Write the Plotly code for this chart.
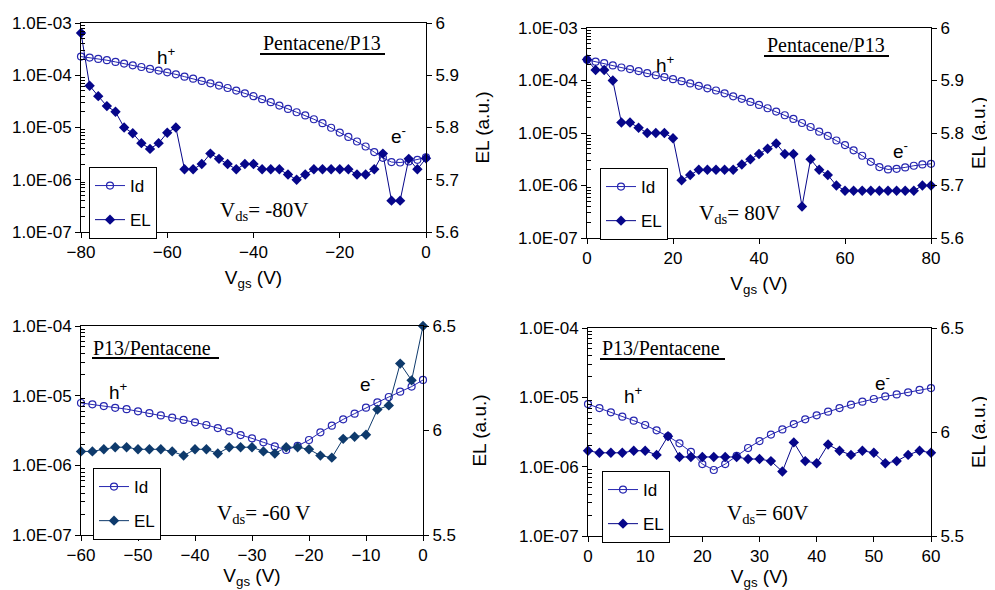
import plotly.graph_objects as go

# page body has an 8px margin; the figure fills the rest of the 995x590 window
OFF = 8
W, H = 995 - OFF, 590 - OFF

# ---------------- data ----------------
vgs_1 = list(range(-80, 1, 2))
id_1 = [2.28e-4, 2.18e-4, 2.05e-4, 1.94e-4, 1.80e-4, 1.67e-4, 1.55e-4, 1.44e-4, 1.32e-4, 1.23e-4,
        1.14e-4, 1.04e-4, 9.4e-5, 8.6e-5, 7.8e-5, 7.0e-5, 6.35e-5, 5.7e-5, 5.1e-5, 4.5e-5,
        3.97e-5, 3.48e-5, 3.05e-5, 2.63e-5, 2.27e-5, 1.96e-5, 1.70e-5, 1.44e-5, 1.21e-5, 9.9e-6,
        8.0e-6, 6.6e-6, 5.4e-6, 4.33e-6, 3.38e-6, 2.63e-6, 2.18e-6, 2.14e-6, 2.24e-6, 2.41e-6, 2.67e-6]
el_1 = [5.981, 5.880, 5.860, 5.841, 5.830, 5.800, 5.789, 5.770, 5.759, 5.770,
        5.790, 5.800, 5.720, 5.720, 5.730, 5.750, 5.740, 5.730, 5.720, 5.730,
        5.730, 5.720, 5.720, 5.720, 5.710, 5.700, 5.710, 5.720, 5.720, 5.720,
        5.720, 5.720, 5.710, 5.710, 5.720, 5.750, 5.660, 5.660, 5.740, 5.720, 5.741]

vgs_2 = list(range(0, 81, 2))
id_2 = [2.48e-4, 2.28e-4, 2.14e-4, 1.94e-4, 1.77e-4, 1.65e-4, 1.51e-4, 1.38e-4, 1.26e-4, 1.16e-4,
        1.06e-4, 9.7e-5, 8.8e-5, 7.9e-5, 7.1e-5, 6.45e-5, 5.7e-5, 5.0e-5, 4.47e-5, 3.91e-5,
        3.43e-5, 2.96e-5, 2.56e-5, 2.18e-5, 1.85e-5, 1.55e-5, 1.30e-5, 1.06e-5, 8.8e-6, 7.2e-6,
        5.9e-6, 4.67e-6, 3.69e-6, 2.83e-6, 2.24e-6, 2.02e-6, 2.08e-6, 2.21e-6, 2.38e-6, 2.52e-6, 2.59e-6]
el_2 = [5.94, 5.92, 5.92, 5.90, 5.82, 5.82, 5.81, 5.80, 5.80, 5.80,
        5.79, 5.71, 5.72, 5.73, 5.73, 5.73, 5.73, 5.73, 5.74, 5.75,
        5.76, 5.77, 5.78, 5.76, 5.76, 5.66, 5.75, 5.73, 5.72, 5.70,
        5.69, 5.69, 5.69, 5.69, 5.69, 5.69, 5.69, 5.69, 5.69, 5.70, 5.70]

vgs_3 = list(range(-60, 1, 2))
id_3 = [7.85e-6, 7.5e-6, 7.1e-6, 6.7e-6, 6.4e-6, 5.96e-6, 5.6e-6, 5.2e-6, 4.83e-6, 4.48e-6,
        4.14e-6, 3.79e-6, 3.43e-6, 3.08e-6, 2.72e-6, 2.44e-6, 2.14e-6, 1.87e-6, 1.66e-6, 1.90e-6,
        2.31e-6, 2.98e-6, 3.71e-6, 4.57e-6, 5.52e-6, 6.73e-6, 8.0e-6, 9.57e-6, 1.14e-5, 1.35e-5, 1.68e-5]
el_3 = [5.90, 5.90, 5.91, 5.92, 5.92, 5.91, 5.91, 5.91, 5.90, 5.88,
        5.91, 5.91, 5.89, 5.92, 5.92, 5.92, 5.90, 5.89, 5.92, 5.92,
        5.91, 5.88, 5.87, 5.96, 5.97, 5.98, 6.10, 6.12, 6.32, 6.24, 6.50]

vgs_4 = list(range(0, 61, 2))
id_4 = [8.0e-6, 7.0e-6, 6.08e-6, 5.26e-6, 4.61e-6, 3.99e-6, 3.34e-6, 2.74e-6, 2.17e-6, 1.63e-6,
        1.09e-6, 8.95e-7, 1.09e-6, 1.43e-6, 1.86e-6, 2.34e-6, 2.90e-6, 3.45e-6, 4.12e-6, 4.82e-6,
        5.5e-6, 6.21e-6, 7.0e-6, 7.84e-6, 8.65e-6, 9.46e-6, 1.03e-5, 1.10e-5, 1.18e-5, 1.28e-5, 1.36e-5]
el_4 = [5.91, 5.90, 5.90, 5.90, 5.91, 5.91, 5.89, 5.98, 5.88, 5.88,
        5.88, 5.88, 5.88, 5.88, 5.87, 5.87, 5.86, 5.81, 5.95, 5.86,
        5.85, 5.94, 5.91, 5.89, 5.91, 5.90, 5.85, 5.86, 5.89, 5.91, 5.90]

series_names = ["Id", "EL"]
panel_titles = ["Pentacene/P13", "Pentacene/P13", "P13/Pentacene", "P13/Pentacene"]
vds_labels = ["V<sub>ds</sub>= -80V", "V<sub>ds</sub>= 80V", "V<sub>ds</sub>= -60 V", "V<sub>ds</sub>= 60V"]
left_ticks_top = [1e-7, 1e-6, 1e-5, 1e-4, 1e-3]
left_labels_top = ["1.0E-07", "1.0E-06", "1.0E-05", "1.0E-04", "1.0E-03"]
left_ticks_bot = [1e-7, 1e-6, 1e-5, 1e-4]
left_labels_bot = ["1.0E-07", "1.0E-06", "1.0E-05", "1.0E-04"]
right_ticks_top = [5.6, 5.7, 5.8, 5.9, 6.0]
right_labels_top = ["5.6", "5.7", "5.8", "5.9", "6"]
right_ticks_bot = [5.5, 6.0, 6.5]
right_labels_bot = ["5.5", "6", "6.5"]

# ---------------- layout helpers ----------------
SANS = "Liberation Sans, Arial, sans-serif"
SERIF = "Liberation Serif, Times New Roman, serif"
ID_COLOR = "#2626b0"
EL_COLORS = ["#06068a", "#06068a", "#0e3a6c", "#06068a"]


def fx(x):
    return (x - OFF) / W


def fy(y):
    return 1 - (y - OFF) / H


panels = [
    dict(x=vgs_1, idv=id_1, el=el_1, box=(81, 23, 426, 232), xr=[-80, 0], xt=list(range(-80, 1, 20)),
         yr=[-7, -3], lt=left_ticks_top, ll=left_labels_top, rr=[5.6, 6.0], rt=right_ticks_top, rl=right_labels_top,
         xstand=9, rstand=17,
         legend=(89, 167), title=(322, 43), ul=(260, 385, 54), h=(166, 56), e=(398, 135), vds=(264, 211)),
    dict(x=vgs_2, idv=id_2, el=el_2, box=(587, 28, 931, 238), xr=[0, 80], xt=list(range(0, 81, 20)),
         yr=[-7, -3], lt=left_ticks_top, ll=left_labels_top, rr=[5.6, 6.0], rt=right_ticks_top, rl=right_labels_top,
         xstand=9, rstand=8,
         legend=(600, 168), title=(826, 45), ul=(764, 889, 56), h=(665, 64), e=(900, 150), vds=(740, 214)),
    dict(x=vgs_3, idv=id_3, el=el_3, box=(81, 326, 423, 535), xr=[-60, 0], xt=list(range(-60, 1, 10)),
         yr=[-7, -4], lt=left_ticks_bot, ll=left_labels_bot, rr=[5.5, 6.5], rt=right_ticks_bot, rl=right_labels_bot,
         xstand=2, rstand=17,
         legend=(93, 468), title=(152, 348), ul=(92, 219, 358), h=(118, 391), e=(367, 383), vds=(263, 514)),
    dict(x=vgs_4, idv=id_4, el=el_4, box=(588, 328, 931, 536), xr=[0, 60], xt=list(range(0, 61, 10)),
         yr=[-7, -4], lt=left_ticks_bot, ll=left_labels_bot, rr=[5.5, 6.5], rt=right_ticks_bot, rl=right_labels_bot,
         xstand=2, rstand=8,
         legend=(602, 471), title=(661, 348), ul=(600, 725, 359), h=(633, 395), e=(882, 382), vds=(768, 514)),
]

fig = go.Figure()
layout = dict(
    width=W, height=H, margin=dict(l=0, r=0, t=0, b=0, autoexpand=False),
    paper_bgcolor="white", plot_bgcolor="white",
    font=dict(family=SANS, size=17, color="black"),
    showlegend=True, annotations=[], shapes=[],
)

for i, p in enumerate(panels):
    xn = "x" if i == 0 else f"x{i + 1}"
    yl = "y" if i == 0 else f"y{2 * i + 1}"
    yr = f"y{2 * i + 2}"
    xkey = "xaxis" if i == 0 else f"xaxis{i + 1}"
    ylkey = "yaxis" if i == 0 else f"yaxis{2 * i + 1}"
    yrkey = f"yaxis{2 * i + 2}"
    lg = "legend" if i == 0 else f"legend{i + 1}"

    fig.add_trace(go.Scatter(
        x=p["x"], y=p["idv"], xaxis=xn, yaxis=yl, name=series_names[0], mode="lines+markers",
        line=dict(color=ID_COLOR, width=1),
        marker=dict(symbol="circle-open", size=7, color=ID_COLOR, line=dict(width=1.2, color=ID_COLOR)),
        cliponaxis=False, legend=lg, legendgroup=f"id{i}"))
    fig.add_trace(go.Scatter(
        x=p["x"], y=p["el"], xaxis=xn, yaxis=yr, name=series_names[1], mode="lines+markers",
        line=dict(color=EL_COLORS[i], width=1),
        marker=dict(symbol="diamond", size=8, color=EL_COLORS[i]),
        cliponaxis=False, legend=lg, legendgroup=f"el{i}"))

    x0, y0, x1, y1 = p["box"]
    layout[xkey] = dict(
        domain=[fx(x0), fx(x1)], anchor=yl, range=p["xr"], tickvals=p["xt"], automargin=False,
        showline=True, mirror=True, linecolor="black", linewidth=1,
        ticks="outside", ticklen=5, tickcolor="black", showgrid=False, zeroline=False,
        tickfont=dict(size=17), title=dict(text="V<sub>gs</sub> (V)", font=dict(size=19), standoff=p["xstand"]),
    )
    minor_vals = [k * 10.0 ** e for e in range(p["yr"][0], p["yr"][1]) for k in range(2, 10)]
    layout[ylkey] = dict(
        domain=[fy(y1), fy(y0)], anchor=xn, type="log", range=p["yr"], automargin=False,
        tickvals=p["lt"], ticktext=p["ll"], showline=True, linecolor="black", linewidth=1,
        ticks="outside", ticklen=5, tickcolor="black", showgrid=False, zeroline=False,
        minor=dict(tickvals=minor_vals, ticks="inside", ticklen=4, tickcolor="black", showgrid=False),
        tickfont=dict(size=17),
    )
    layout[yrkey] = dict(
        overlaying=yl, side="right", anchor=xn, range=p["rr"], automargin=False,
        tickvals=p["rt"], ticktext=p["rl"], showline=True, linecolor="black", linewidth=1,
        ticks="outside", ticklen=5, tickcolor="black", showgrid=False, zeroline=False,
        tickfont=dict(size=17), title=dict(text="EL (a.u.)", font=dict(size=19), standoff=p["rstand"]),
    )
    layout[lg] = dict(
        x=fx(p["legend"][0]), y=fy(p["legend"][1]), xanchor="left", yanchor="top",
        bordercolor="black", borderwidth=1,
        bgcolor="white", font=dict(size=17, family=SANS), itemwidth=30, tracegroupgap=9,
        traceorder="grouped",
    )

    layout["annotations"].append(dict(
        x=fx(p["title"][0]), y=fy(p["title"][1]), xref="paper", yref="paper", text=panel_titles[i],
        showarrow=False, font=dict(family=SERIF, size=20, color="black"), xanchor="center", yanchor="middle"))
    ux0, ux1, uy = p["ul"]
    layout["shapes"].append(dict(type="line", xref="paper", yref="paper",
                                 x0=fx(ux0), x1=fx(ux1), y0=fy(uy), y1=fy(uy),
                                 line=dict(color="black", width=2)))
    layout["annotations"].append(dict(
        x=fx(p["h"][0]), y=fy(p["h"][1]), xref="paper", yref="paper", text="h<sup>+</sup>", showarrow=False,
        font=dict(family=SANS, size=19, color="black"), xanchor="center", yanchor="middle"))
    layout["annotations"].append(dict(
        x=fx(p["e"][0]), y=fy(p["e"][1]), xref="paper", yref="paper", text="e<sup>-</sup>", showarrow=False,
        font=dict(family=SANS, size=19, color="black"), xanchor="center", yanchor="middle"))
    layout["annotations"].append(dict(
        x=fx(p["vds"][0]), y=fy(p["vds"][1]), xref="paper", yref="paper", text=vds_labels[i], showarrow=False,
        font=dict(family=SERIF, size=21, color="black"), xanchor="center", yanchor="middle"))

fig.update_layout(**layout)
fig.write_html("out.html")
